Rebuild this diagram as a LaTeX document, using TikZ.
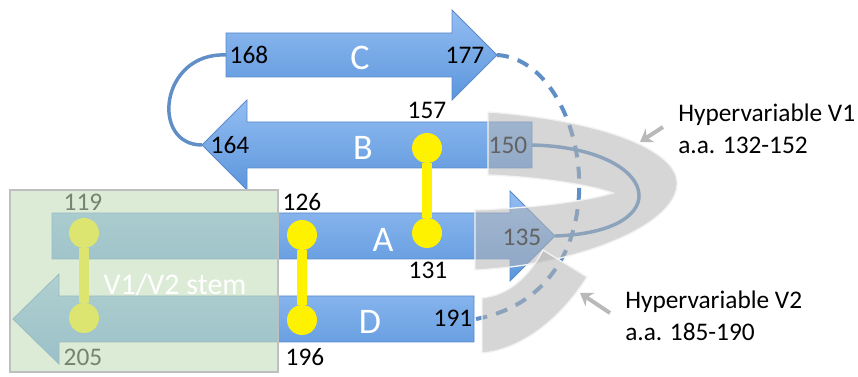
\documentclass[tikz,border=0pt]{standalone}
\usepackage{fontspec}
\setmainfont{Carlito}
\usetikzlibrary{arrows.meta}

\definecolor{strandtop}{HTML}{93BDF2}
\definecolor{strandbot}{HTML}{5C96DC}
\definecolor{strandedge}{HTML}{5A8ACB}
\definecolor{loopblue}{HTML}{5F8FC6}
\definecolor{stemgreen}{HTML}{C4DDBB}
\definecolor{hvgray}{HTML}{B4B4B4}

\tikzset{
  strand/.style={draw=strandedge, line width=0.6pt, top color=strandtop, bottom color=strandbot},
  loopline/.style={draw=loopblue, line width=2.6pt},
  resnum/.style={font=\fontsize{19}{22}\selectfont, inner sep=0pt},
  strandname/.style={font=\fontsize{27}{30}\selectfont, text=white, inner sep=0pt},
  hband/.style={fill=hvgray, fill opacity=0.55, draw=white!90!gray, line width=1pt},
  ball/.style={circle, fill=yellow, minimum size=22.5pt, inner sep=0pt},
  bridge/.style={draw=yellow, line width=7pt},
  pointer/.style={draw=gray!55, line width=3pt, -{Stealth[length=9pt,width=12pt]}},
}

\begin{document}
\begin{tikzpicture}[x=0.75pt, y=-0.75pt]
    \useasboundingbox (0,0) rectangle (858,377);

    % the four strands
    \draw[strand] (226,33) -- (452,33) -- (452,10) -- (497,55) -- (452,100) -- (452,77) -- (226,77) -- cycle;
    \draw[strand] (532,122) -- (247,122) -- (247,100) -- (202,145) -- (247,190) -- (247,168) -- (532,168) -- cycle;
    \draw[strand] (52,213) -- (510,213) -- (510,191) -- (555,236) -- (510,281) -- (510,259) -- (52,259) -- cycle;
    \draw[strand] (474,296) -- (59,296) -- (59,274) -- (13,319) -- (59,364) -- (59,342) -- (474,342) -- cycle;

    \coordinate (c-in) at (226,55);
    \coordinate (c-out) at (497,55);
    \coordinate (b-out) at (202,145);
    \coordinate (b-in) at (532,145);
    \coordinate (a-out) at (555,236);
    \coordinate (d-in) at (476,319);

    \draw[loopline] (c-in) .. controls (160,52) and (150,145) .. (b-out);

    % residue numbers
    \node[resnum] (n168) at (249,55) {168};
    \node[resnum] (n177) at (465,55) {177};
    \node[resnum] (n157) at (427,110) {157};
    \node[resnum] (n164) at (230,145) {164};
    \node[resnum] (n150) at (508,145) {150};
    \node[resnum] (n119) at (83,202) {119};
    \node[resnum] (n126) at (302,202) {126};
    \node[resnum] (n131) at (428,270) {131};
    \node[resnum] (n135) at (522,237) {135};
    \node[resnum] (n205) at (83,357) {205};
    \node[resnum] (n196) at (305,357) {196};
    \node[resnum] (n191) at (453,318) {191};

    \node[strandname] (sC) at (360,58) {C};
    \node[strandname] (sB) at (363,148) {B};
    \node[strandname] (sA) at (383,240) {A};
    \node[strandname] (sD) at (370,322) {D};

    % disulfide bridges
    \node[ball] (y1) at (427,148) {};
    \node[ball] (y2) at (427,233) {};
    \node[ball] (y3) at (302,235) {};
    \node[ball] (y4) at (302,320) {};
    \node[ball] (y5) at (84,233) {};
    \node[ball] (y6) at (84,318) {};
    \draw[bridge] (y1) -- (y2);
    \draw[bridge] (y3) -- (y4);
    \draw[bridge] (y5) -- (y6);

    % stem box
    \fill[stemgreen, fill opacity=0.6] (10,190) rectangle (278,372);
    \draw[gray!50, line width=0.8pt] (10,190) rectangle (278,372);
    \node[font=\fontsize{22.5}{26}\selectfont, text=white, inner sep=0pt] (stem) at (175,285) {V1/V2 stem};

    % loops
    \draw[loopline] (b-in) .. controls (660,148) and (680,232) .. (a-out);
    \draw[loopline, line width=3pt, dash pattern=on 9pt off 7pt] (c-out) .. controls (590,60) and (630,290) .. (d-in);

    % hypervariable regions
    \draw[hband] (488,112) .. controls (600,120) and (680,150) .. (677,185)
        .. controls (675,225) and (580,265) .. (475,270) -- (475,210)
        .. controls (540,208) and (590,200) .. (613,193)
        .. controls (590,185) and (540,177) .. (488,175) -- cycle;
    \draw[hband] (587,277) .. controls (560,320) and (520,350) .. (482,353) -- (482,298)
        .. controls (510,295) and (530,275) .. (543,250) -- cycle;

    \node[resnum, anchor=west, align=left, font=\fontsize{19}{24}\selectfont] (hv1) at (678,129) {Hypervariable V1\\a.a. 132-152};
    \node[resnum, anchor=west, align=left, font=\fontsize{19}{24}\selectfont] (hv2) at (625,316) {Hypervariable V2\\a.a. 185-190};
    \coordinate (p1) at (663,127);
    \coordinate (q1) at (640,142);
    \coordinate (p2) at (610,313);
    \coordinate (q2) at (580,293);
    \draw[pointer] (p1) -- (q1);
    \draw[pointer] (p2) -- (q2);
\end{tikzpicture}
\end{document}
